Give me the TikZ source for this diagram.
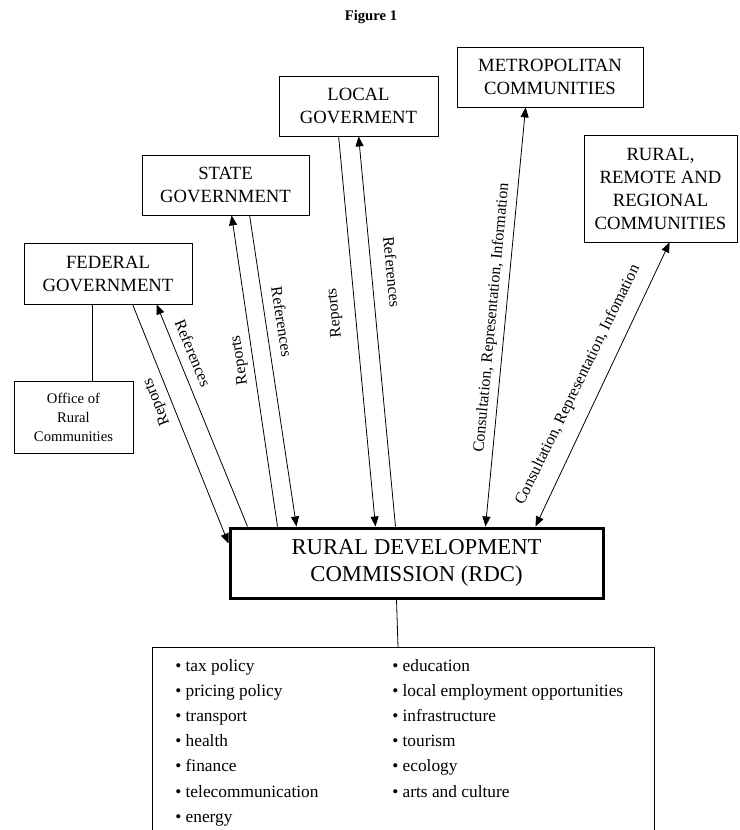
\documentclass[tikz,border=0pt]{standalone}
\usepackage{fontspec}
\setmainfont{Liberation Serif}
\usetikzlibrary{arrows.meta,calc}

\begin{document}
\begin{tikzpicture}[x=0.75pt, y=-0.75pt, >={Triangle[length=7.5pt,width=6pt]},
    box/.style={draw, line width=0.6pt, align=center, inner sep=0pt, font=\fontsize{14}{17.25}\selectfont},
    lbl/.style={inner sep=0pt, font=\fontsize{12}{14}\selectfont},
    item/.style={anchor=base west, inner sep=0pt, font=\fontsize{13}{15}\selectfont},
    flow/.style={line width=0.6pt}]
    \clip (0,0) rectangle (739,830);
    \node[font=\bfseries\fontsize{11}{13}\selectfont] (title) at (371,17) {Figure 1};
    % boxes
    \node[box, minimum width=126pt, minimum height=45.75pt] (fed) at (108,273.5) {FEDERAL\\GOVERNMENT};
    \node[box, minimum width=89.25pt, minimum height=54pt, font=\fontsize{11}{14.25}\selectfont] (orc) at (73.5,417) {Office of\\Rural\\Communities};
    \node[box, minimum width=125.25pt, minimum height=45pt] (state) at (225.5,185) {STATE\\GOVERNMENT};
    \node[box, minimum width=119.25pt, minimum height=45pt] (local) at (358.5,106) {LOCAL\\GOVERMENT};
    \node[box, minimum width=139.5pt, minimum height=45pt] (metro) at (550,77) {METROPOLITAN\\COMMUNITIES};
    \node[box, minimum width=114.75pt, minimum height=80.25pt] (rural) at (660.5,188.5) {RURAL,\\REMOTE AND\\REGIONAL\\COMMUNITIES};
    \node[box, line width=2.25pt, minimum width=279.75pt, minimum height=52.5pt, font=\fontsize{17}{20}\selectfont] (rdc) at (416.5,563) {RURAL DEVELOPMENT\\COMMISSION (RDC)};
    \node[box, anchor=north west, minimum width=376.5pt, minimum height=187.5pt] (lst) at (152,647) {};
    % plain links
    \draw[flow] ($(fed.south west)+(69,0)$) -- ($(orc.north west)+(79,0)$);
    \draw[flow] ($(rdc.south west)+(168,0)$) -- ($(lst.north west)+(246,0)$);
    % reports and references
    \draw[flow, ->] ($(fed.south west)+(109,0)$) -- ($(rdc.north west)+(0,17)$);
    \draw[flow, ->] ($(rdc.north west)+(19,0)$) -- ($(fed.south west)+(133,0)$);
    \draw[flow, ->] ($(rdc.north west)+(49,0)$) -- ($(state.south west)+(90,0)$);
    \draw[flow, ->] ($(state.south west)+(108,0)$) -- ($(rdc.north west)+(68,0)$);
    \draw[flow, ->] ($(local.south west)+(60,0)$) -- ($(rdc.north west)+(147,0)$);
    \draw[flow, ->] ($(rdc.north west)+(167,0)$) -- ($(local.south west)+(80,0)$);
    \draw[flow, <->] ($(rdc.north west)+(257,0)$) -- ($(metro.south west)+(69,0)$);
    \draw[flow, <->] ($(rdc.north west)+(307,0)$) -- ($(rural.south west)+(86,0)$);
    % labels
    \node[lbl, rotate=112] (fedrep) at (157,402) {Reports};
    \node[lbl, rotate=-67.6] (fedref) at (193,353) {References};
    \node[lbl, rotate=98.5] (staterep) at (240,360) {Reports};
    \node[lbl, rotate=-81.3] (stateref) at (282,322) {References};
    \node[lbl, rotate=95.5] (localrep) at (335,313) {Reports};
    \node[lbl, rotate=-84.5] (localref) at (392,272) {References};
    \node[lbl, rotate=84.7] (metrolbl) at (492,318) {Consultation, Representation, Information};
    \node[lbl, rotate=64] (rurallbl) at (578,385) {Consultation, Representation, Infomation};
    % list of areas
    \foreach \txt [count=\k from 0] in {tax policy, pricing policy, transport, health, finance, telecommunication, energy}
        \node[item] (left\k) at (175,{671+25.2*\k}) {\textbullet\ \txt};
    \foreach \txt [count=\k from 0] in {education, local employment opportunities, infrastructure, tourism, ecology, arts and culture}
        \node[item] (right\k) at (392,{671+25.2*\k}) {\textbullet\ \txt};
\end{tikzpicture}
\end{document}
